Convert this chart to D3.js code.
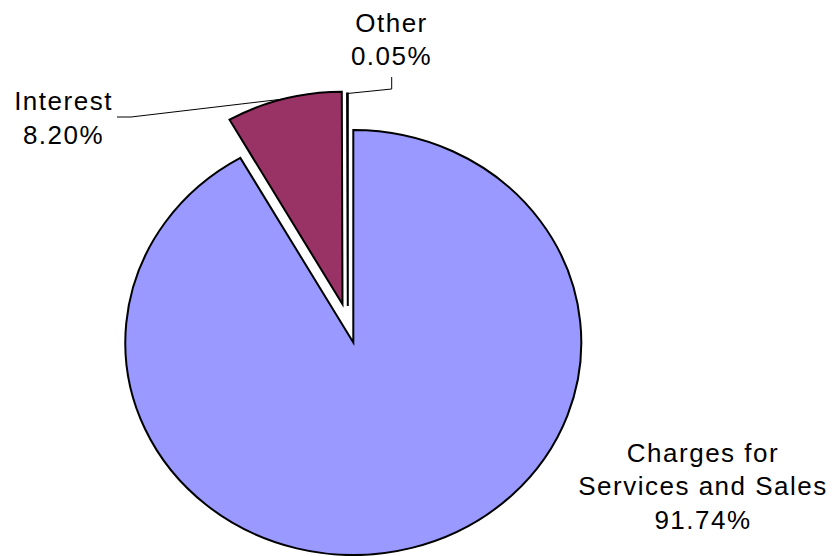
<!DOCTYPE html>
<html>
<head>
<meta charset="utf-8">
<script src="https://cdn.jsdelivr.net/npm/d3@7"></script>
<style>
  html, body { margin: 0; padding: 0; background: #fff; }
  svg { display: block; }
  text { font-family: "Liberation Sans", Arial, sans-serif; font-size: 26px; letter-spacing: 1.5px; fill: #000; }
</style>
</head>
<body>
<svg id="chart" width="837" height="556"></svg>
<script>
// Revenue sources, share of total (%)
const categories = ["Charges for Services and Sales", "Interest", "Other"];
const shares = [91.74, 8.20, 0.05];
const labelLines = [["Charges for", "Services and Sales"], ["Interest"], ["Other"]];

const colors = ["#9999FF", "#993366", "#993366"];

// Geometry of the (slightly flattened) pie
const cx = 353.3, cy = 342.5, rx = 228, ry = 212.5;
const yScale = ry / rx;

// Exploded slices are pushed out from the centre
const explode = [[0, 0], [-10.8, -38.2], [-5.5, -36.5]];

// Label anchors and leader-line elbows
const labelPos = [[703, 461.7], [63.5, 110], [391.5, 31.7]];
const leaderElbow = [null, [[117, 117], [131, 117]], [[391.7, 77], [391.7, 89]]];
const lineGap = 33.5;

const svg = d3.select("#chart");

const pie = d3.pie().sort(null).value(d => d)
  .startAngle(0).endAngle(2 * Math.PI);
const arcs = pie(shares);

const arc = d3.arc().innerRadius(0).outerRadius(rx);

const slices = svg.append("g");
arcs.forEach((a, i) => {
  const g = slices.append("g")
    .attr("transform", `translate(${cx + explode[i][0]},${cy + explode[i][1]}) scale(1,${yScale})`);
  g.append("path")
    .attr("d", arc(a))
    .attr("fill", colors[i])
    .attr("stroke", "#000")
    .attr("stroke-width", 2)
    .attr("stroke-linejoin", "miter")
    .attr("vector-effect", "non-scaling-stroke");
});

// Leader lines from the labels to the middle of each slice's outer edge
const leaders = svg.append("g").attr("fill", "none").attr("stroke", "#000").attr("stroke-width", 1);
arcs.forEach((a, i) => {
  if (!leaderElbow[i]) return;
  const mid = (a.startAngle + a.endAngle) / 2;
  const ex = cx + explode[i][0] + rx * Math.sin(mid);
  const ey = cy + explode[i][1] - ry * Math.cos(mid);
  const pts = leaderElbow[i].concat([[ex, ey]]);
  leaders.append("path").attr("d", d3.line()(pts));
});

// Category labels with percentages
const fmt = d3.format(".2f");
arcs.forEach((a, i) => {
  const lines = labelLines[i].concat([fmt(shares[i]) + "%"]);
  const t = svg.append("text")
    .attr("text-anchor", "middle")
    .attr("x", labelPos[i][0])
    .attr("y", labelPos[i][1]);
  lines.forEach((s, k) => {
    t.append("tspan")
      .attr("x", labelPos[i][0])
      .attr("y", labelPos[i][1] + k * lineGap)
      .text(s);
  });
});
</script>
</body>
</html>
